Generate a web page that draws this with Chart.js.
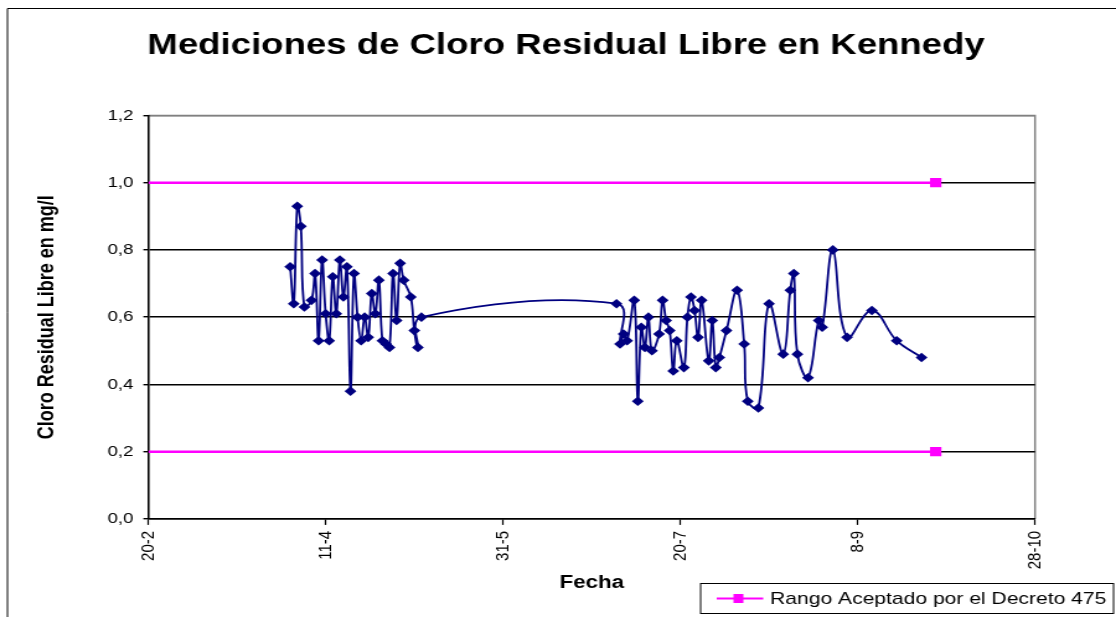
<!DOCTYPE html>
<html>
<head>
<meta charset="utf-8">
<title>Mediciones de Cloro Residual Libre en Kennedy</title>
<script src="https://cdn.jsdelivr.net/npm/chart.js@4.4.0/dist/chart.umd.min.js"></script>
<style>
  html, body { margin: 0; padding: 0; background: #fff; overflow: hidden; }
  canvas { display: block; }
</style>
</head>
<body>
<!-- the original picture is stretched sideways: draw at 900 wide and widen to 1116 with css -->
<canvas id="chart" width="900" height="617" style="width:1116px;height:617px"></canvas>
<script>
const titleText = 'Mediciones de Cloro Residual Libre en Kennedy';
const yTitle = 'Cloro Residual Libre en mg/l';
const xTitle = 'Fecha';
const rangeLabel = 'Rango Aceptado por el Decreto 475';

const xTickLabels = ['20-2', '11-4', '31-5', '20-7', '8-9', '28-10'];

// mediciones (dia-mes) and cloro residual libre en mg/l
const fechas = [
  '1-4', '2-4', '3-4', '4-4', '5-4', '7-4', '8-4', '9-4', '10-4', '11-4',
  '12-4', '13-4', '14-4', '15-4', '16-4', '17-4', '18-4', '19-4', '20-4', '21-4',
  '22-4', '23-4', '24-4', '25-4', '26-4', '27-4', '28-4', '29-4', '30-4', '1-5',
  '2-5', '3-5', '5-5', '6-5', '7-5', '8-5',
  '2-7', '3-7', '4-7', '5-7', '7-7', '8-7', '9-7', '10-7', '11-7', '12-7',
  '14-7', '15-7', '16-7', '17-7', '18-7', '19-7', '21-7', '22-7', '23-7', '24-7',
  '25-7', '26-7', '28-7', '29-7', '30-7', '31-7', '2-8', '5-8', '7-8', '8-8',
  '11-8', '14-8', '18-8', '20-8', '21-8', '22-8', '25-8', '28-8', '29-8', '1-9',
  '5-9', '12-9', '19-9', '26-9'
];
const cloro = [
  0.75, 0.64, 0.93, 0.87, 0.63, 0.65, 0.73, 0.53, 0.77, 0.61,
  0.53, 0.72, 0.61, 0.77, 0.66, 0.75, 0.38, 0.73, 0.60, 0.53,
  0.60, 0.54, 0.67, 0.61, 0.71, 0.53, 0.52, 0.51, 0.73, 0.59,
  0.76, 0.71, 0.66, 0.56, 0.51, 0.60,
  0.64, 0.52, 0.55, 0.53, 0.65, 0.35, 0.57, 0.51, 0.60, 0.50,
  0.55, 0.65, 0.59, 0.56, 0.44, 0.53, 0.45, 0.60, 0.66, 0.62,
  0.54, 0.65, 0.47, 0.59, 0.45, 0.48, 0.56, 0.68, 0.52, 0.35,
  0.33, 0.64, 0.49, 0.68, 0.73, 0.49, 0.42, 0.59, 0.57, 0.80,
  0.54, 0.62, 0.53, 0.48
];

// rango aceptado (Decreto 475)
const rangoFechas = ['20-2', '30-9'];
const rangoMax = [1.0, 1.0];
const rangoMin = [0.2, 0.2];

const FONT = "'Liberation Sans', Arial, sans-serif";

// days counted from 20-2 (the axis start)
function dayOf(s) {
  const [d, m] = s.split('-').map(Number);
  return (Date.UTC(2007, m - 1, d) - Date.UTC(2007, 1, 20)) / 86400000;
}
const toPoints = (dates, vals) => dates.map((f, i) => ({ x: dayOf(f), y: vals[i] }));

const decor = {
  id: 'decor',
  beforeDraw(chart) {
    const { ctx, chartArea: a } = chart;
    ctx.save();
    ctx.fillStyle = '#fff';
    ctx.fillRect(0, 0, chart.width, chart.height);
    // outer frame
    ctx.strokeStyle = '#000';
    ctx.lineWidth = 1;
    ctx.beginPath();
    ctx.moveTo(6, chart.height);
    ctx.lineTo(6, 8.5);
    ctx.lineTo(chart.width, 8.5);
    ctx.stroke();
    // plot area border
    ctx.strokeStyle = '#808080';
    ctx.lineWidth = 1.5;
    ctx.beginPath();
    ctx.moveTo(a.left, a.top);
    ctx.lineTo(a.right, a.top);
    ctx.lineTo(a.right, a.bottom);
    ctx.stroke();
    ctx.restore();
  },
  afterDraw(chart) {
    const { ctx } = chart;
    ctx.save();
    ctx.fillStyle = '#000';
    ctx.font = `bold 29.5px ${FONT}`;
    ctx.textAlign = 'center';
    ctx.textBaseline = 'middle';
    ctx.fillText(titleText, 456.5, 46);

    // legend box
    const lx = 565, ly = 583.5, lw = 333, lh = 30;
    const cy = ly + lh / 2;
    ctx.fillStyle = '#fff';
    ctx.fillRect(lx, ly, lw, lh);
    ctx.strokeStyle = '#000';
    ctx.lineWidth = 1;
    ctx.strokeRect(lx, ly, lw, lh);
    ctx.strokeStyle = '#ff00ff';
    ctx.lineWidth = 2;
    ctx.beginPath();
    ctx.moveTo(578, cy);
    ctx.lineTo(615.5, cy);
    ctx.stroke();
    ctx.fillStyle = '#ff00ff';
    ctx.fillRect(591.5, cy - 4.5, 8, 9);
    ctx.fillStyle = '#000';
    ctx.font = `17px ${FONT}`;
    ctx.textAlign = 'left';
    ctx.fillText(rangeLabel, 621, cy + 1);
    ctx.restore();
  }
};

const pink = {
  borderColor: '#ff00ff',
  backgroundColor: '#ff00ff',
  borderWidth: 2.5,
  pointStyle: 'rect',
  pointRadius: [0, 6.5],
  pointBorderWidth: 0,
  tension: 0
};

new Chart(document.getElementById('chart'), {
  type: 'line',
  data: {
    datasets: [
      {
        label: 'Cloro Residual Libre',
        data: toPoints(fechas, cloro),
        borderColor: '#000080',
        backgroundColor: '#000080',
        borderWidth: 1.8,
        pointStyle: 'rectRot',
        pointRadius: 4.8,
        pointBorderWidth: 0,
        tension: 0.4
      },
      Object.assign({ label: rangeLabel, data: toPoints(rangoFechas, rangoMax) }, pink),
      Object.assign({ label: rangeLabel, data: toPoints(rangoFechas, rangoMin) }, pink)
    ]
  },
  options: {
    responsive: false,
    devicePixelRatio: 1,
    animation: false,
    layout: { padding: { top: 115.4, left: 0, right: 65.3, bottom: 0 } },
    plugins: {
      legend: { display: false },
      title: { display: false },
      tooltip: { enabled: false }
    },
    scales: {
      x: {
        type: 'linear',
        min: 0,
        max: 250,
        afterFit: s => { s.height = 98.1; },
        ticks: {
          stepSize: 50,
          autoSkip: false,
          maxRotation: 90,
          minRotation: 90,
          padding: 6,
          color: '#000',
          font: { family: FONT, size: 15 },
          callback: (v, i) => xTickLabels[i]
        },
        grid: { drawOnChartArea: false, tickLength: 6, tickColor: '#000', tickWidth: 1.2 },
        border: { color: '#000', width: 1.5 },
        title: {
          display: true,
          text: xTitle,
          color: '#000',
          font: { family: FONT, size: 18, weight: 'bold' },
          padding: { top: 0, bottom: 23 }
        }
      },
      y: {
        min: 0,
        max: 1.2,
        afterFit: s => { s.width = 119.6; },
        ticks: {
          stepSize: 0.2,
          padding: 8,
          color: '#000',
          font: { family: FONT, size: 15 },
          callback: v => v.toFixed(1).replace('.', ',')
        },
        grid: {
          color: c => (c.tick && c.tick.value > 1.1 ? '#808080' : '#000'),
          lineWidth: 1.4,
          tickLength: 4,
          tickColor: '#000'
        },
        border: { color: '#000', width: 1.6 },
        title: {
          display: true,
          text: yTitle,
          color: '#000',
          font: { family: FONT, size: 18, weight: 'bold' },
          padding: { top: 27, bottom: 0 }
        }
      }
    }
  },
  plugins: [decor]
});
</script>
</body>
</html>
